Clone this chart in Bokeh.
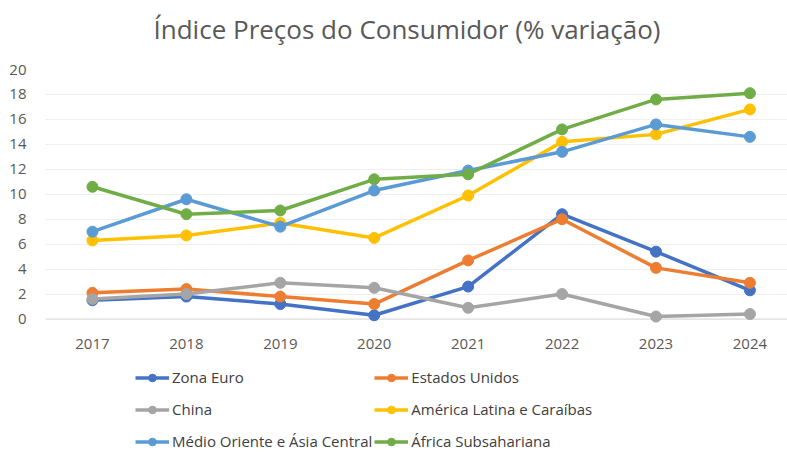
from bokeh.plotting import figure
from bokeh.layouts import column
from bokeh.models import (Range1d, FixedTicker, Legend, LegendItem, Span)
from bokeh.embed import file_html
from bokeh.resources import INLINE

years = [2017, 2018, 2019, 2020, 2021, 2022, 2023, 2024]
year_labels = ["2017", "2018", "2019", "2020", "2021", "2022", "2023", "2024"]
y_ticks = [0, 2, 4, 6, 8, 10, 12, 14, 16, 18, 20]

zona_euro = [1.5, 1.8, 1.2, 0.3, 2.6, 8.4, 5.4, 2.3]
estados_unidos = [2.1, 2.4, 1.8, 1.2, 4.7, 8.0, 4.1, 2.9]
china = [1.6, 2.0, 2.9, 2.5, 0.9, 2.0, 0.2, 0.4]
america_latina = [6.3, 6.7, 7.7, 6.5, 9.9, 14.2, 14.8, 16.8]
medio_oriente = [7.0, 9.6, 7.4, 10.3, 11.9, 13.4, 15.6, 14.6]
africa_sub = [10.6, 8.4, 8.7, 11.2, 11.6, 15.2, 17.6, 18.1]

series_names = ["Zona Euro", "Estados Unidos", "China",
                "América Latina e Caraíbas", "Médio Oriente e Ásia Central",
                "África Subsahariana"]
series_values = [zona_euro, estados_unidos, china, america_latina,
                 medio_oriente, africa_sub]
colors = ["#4472C4", "#ED7D31", "#A5A5A5", "#FFC000", "#5B9BD5", "#70AD47"]

FONT = "Open Sans"

# title strip
tf = figure(width=787, height=60, output_backend="svg", toolbar_location=None,
            x_range=Range1d(0, 1), y_range=Range1d(0, 1),
            x_axis_location=None, y_axis_location=None,
            min_border_left=0, min_border_right=0, min_border_top=0,
            min_border_bottom=0)
tf.outline_line_color = None
tf.grid.grid_line_color = None
tf.title.text = "Índice Preços do Consumidor (% variação)"
tf.title.align = "left"
tf.title.offset = 108
tf.title.vertical_align = "top"
tf.title.text_font = FONT
tf.title.text_font_size = "26px"
tf.title.text_font_style = "normal"
tf.title.text_color = "#595959"
tf.title.standoff = 23

# main chart
p = figure(width=787, height=292, output_backend="svg", toolbar_location=None,
           x_range=Range1d(2016.5, 2024.40), y_range=Range1d(-0.6, 20),
           min_border_left=45, min_border_right=0, min_border_top=9,
           min_border_bottom=26)
p.outline_line_color = None
p.background_fill_color = "white"
p.border_fill_color = "white"

p.xaxis.ticker = FixedTicker(ticks=years)
p.xaxis.major_label_overrides = {y: l for y, l in zip(years, year_labels)}
p.yaxis.ticker = FixedTicker(ticks=y_ticks)
for ax in (p.xaxis[0], p.yaxis[0]):
    ax.axis_line_color = None
    ax.major_tick_line_color = None
    ax.minor_tick_line_color = None
    ax.major_label_text_font = FONT
    ax.major_label_text_font_size = "15px"
    ax.major_label_text_color = "#595959"
p.xaxis.major_label_standoff = 6
p.yaxis.major_label_standoff = 13

p.xgrid.grid_line_color = None
p.ygrid.grid_line_color = "#EFEFEF"
p.ygrid.grid_line_width = 1

p.add_layout(Span(location=0, dimension="width", line_color="#D9D9D9",
                  line_width=1, level="underlay"))

for name, vals, c in zip(series_names, series_values, colors):
    p.line(years, vals, line_color=c, line_width=3.5)
    p.scatter(years, vals, size=11, fill_color=c, line_color=c)

# legend in its own strip below the chart (its renderers lie outside its view)
lf = figure(width=787, height=104, output_backend="svg", toolbar_location=None,
            x_range=Range1d(0, 1), y_range=Range1d(0, 1),
            x_axis_location=None, y_axis_location=None,
            min_border_left=0, min_border_right=0, min_border_top=0,
            min_border_bottom=0)
lf.outline_line_color = None
lf.grid.grid_line_color = None

items = []
for name, vals, c in zip(series_names, series_values, colors):
    lr = lf.line(years, vals, line_color=c, line_width=3.5)
    sr = lf.scatter(years, vals, size=8, fill_color=c, line_color=c)
    items.append(LegendItem(label=name, renderers=[lr, sr]))

legend = Legend(items=items, orientation="horizontal", ncols=2,
                location=(90, 0), margin=0, padding=0, spacing=2,
                glyph_width=34, glyph_height=19, label_height=30,
                label_standoff=3, label_text_font=FONT,
                label_text_font_size="15px", label_text_color="#404040",
                border_line_color=None, background_fill_alpha=0)
lf.add_layout(legend, "center")

layout = column(tf, p, lf, spacing=0)
open("out.html", "w").write(file_html(layout, INLINE))
